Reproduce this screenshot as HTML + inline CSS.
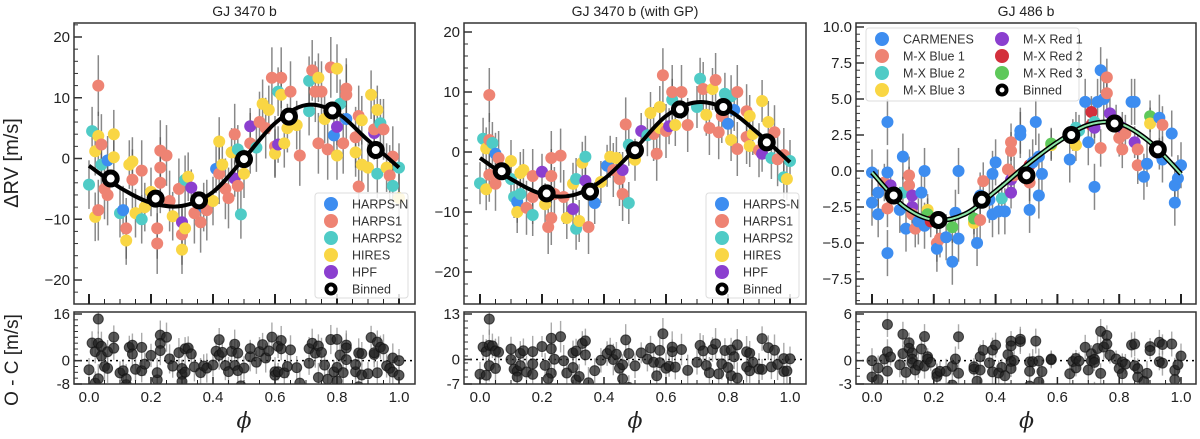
<!DOCTYPE html>
<html><head><meta charset="utf-8">
<style>
html,body{margin:0;padding:0;background:#fff;}
svg{display:block;font-family:"Liberation Sans","DejaVu Sans",sans-serif;}
</style></head>
<body>
<svg id="chart" width="1200" height="439" viewBox="0 0 1200 439" xmlns="http://www.w3.org/2000/svg">
<text x="18" y="163" transform="rotate(-90 18 163)" text-anchor="middle" font-size="20" fill="#222">ΔRV [m/s]</text>
<text x="18" y="360" transform="rotate(-90 18 360)" text-anchor="middle" font-size="19" fill="#222">O - C [m/s]</text>
</svg>
<script>
// ---------- data ----------
const instColors = ["#3d8df0","#ee8373","#4fcbc6","#f9d644","#8b3fcf","#d3303c","#5ec85a"];
const legend1 = ["HARPS-N","HARPS1","HARPS2","HIRES","HPF"];
const legend3 = ["CARMENES","M-X Blue 1","M-X Blue 2","M-X Blue 3","M-X Red 1","M-X Red 2","M-X Red 3"];
const titles = ["GJ 3470 b","GJ 3470 b (with GP)","GJ 486 b"];
const xTicks = [0.0,0.2,0.4,0.6,0.8,1.0];
const xTickLabels = ["0.0","0.2","0.4","0.6","0.8","1.0"];
const yTicks1 = [-20,-10,0,10,20];
const yTicks3 = [-7.5,-5,-2.5,0,2.5,5,7.5,10];
const yTickLabels3 = ["−7.5","−5.0","−2.5","0.0","2.5","5.0","7.5","10.0"];
const resTicks1 = [16,0,-8];
const resTicks2 = [13,0,-7];
const resTicks3 = [6,0,-3];
const curvePhase = [0,0.1,0.2,0.3,0.4,0.5,0.6,0.7,0.8,0.9,1.0];
const curve1 = [-1.2,-4.8,-7.3,-7.8,-5.5,0,5.8,8.8,7.5,3,-1.5];
const curve2 = [-1,-4.5,-7,-7.2,-4.5,0.5,6,8.3,7,3,-1.7];
const curve3 = [-0.1,-2.4,-3.4,-3.0,-1.4,0.4,2.0,3.2,3.3,2.0,-0.2];
const binPhase = [0.07,0.215,0.355,0.5,0.645,0.785,0.925];
const bin1 = [-3.3,-6.6,-6.9,-0.1,6.9,7.9,1.4];
const bin2 = [-3.2,-6.9,-6.6,0.3,7.1,7.5,1.6];
const bin3 = [-1.7,-3.4,-2.0,-0.3,2.5,3.3,1.5];
const err1 = [4,5,4,4,3];
const err2 = [3.5,4.5,3.5,3.5,3];
const err3 = [1.6,1.3,1.1,1.1,1.1,1.1,1.1];
const pts1 = [[0,-4.3,2],[0.01,4.5,2],[0.02,1.2,3],[0.02,-9.6,3],[0.03,3.7,3],[0.03,12,1],[0.03,-8.5,1],[0.04,2.3,1],[0.04,-1,2],[0.05,-5,1],[0.06,-0.3,0],[0.06,-6,1],[0.08,4,3],[0.08,0.2,3],[0.1,-9,2],[0.11,-8.5,0],[0.12,-13.5,3],[0.12,-11.5,1],[0.13,-1,3],[0.14,-0.5,3],[0.14,-3.5,1],[0.15,-9,3],[0.17,-10,2],[0.17,-2,1],[0.18,-8,3],[0.2,-5.5,3],[0.22,-14,1],[0.22,-11.5,1],[0.23,1.3,1],[0.23,-1.5,1],[0.23,-4,1],[0.25,0.5,1],[0.26,-7,1],[0.27,-9.5,3],[0.29,-5,1],[0.3,-12.5,1],[0.3,-15,3],[0.3,-10.5,4],[0.31,-11.5,3],[0.31,-3.5,2],[0.32,-3,3],[0.33,-4.8,4],[0.34,-9,1],[0.36,-10.5,1],[0.37,-8,0],[0.38,-8.5,1],[0.4,-7,3],[0.41,-1.7,0],[0.42,-2.5,1],[0.42,2.8,3],[0.43,-1,3],[0.44,-5,1],[0.45,-6.5,1],[0.46,1,3],[0.47,4,1],[0.47,-3.3,4],[0.48,1.5,2],[0.48,-4.5,1],[0.49,-9.2,2],[0.5,-2.5,3],[0.52,2.5,1],[0.52,5.3,4],[0.54,1.8,2],[0.55,6,1],[0.56,9,3],[0.57,5,1],[0.58,8,3],[0.59,13.3,1],[0.6,2,1],[0.6,0.8,3],[0.61,2.3,4],[0.61,11,2],[0.62,13.3,1],[0.62,10.5,3],[0.63,2.5,3],[0.64,5,3],[0.65,11,1],[0.67,5.5,3],[0.68,0.5,1],[0.71,7.8,2],[0.71,12.8,2],[0.72,14.5,1],[0.73,11,1],[0.74,13.3,3],[0.74,2.5,1],[0.75,11,1],[0.76,6.5,3],[0.77,1.5,1],[0.78,15,1],[0.79,3.8,0],[0.8,0.5,3],[0.8,14.8,3],[0.8,5.2,4],[0.81,9,2],[0.82,2.5,1],[0.83,6.5,0],[0.83,11.5,1],[0.83,10.5,1],[0.86,1,3],[0.86,3.5,1],[0.87,7,1],[0.87,-4.6,1],[0.88,6.3,3],[0.88,-1,3],[0.9,-1.5,3],[0.91,10.5,3],[0.92,4.2,4],[0.92,4.8,1],[0.93,-2.5,2],[0.93,8,3],[0.94,5.8,2],[0.95,4.8,1],[0.96,-1.5,3],[0.97,-2.8,1],[0.98,0.3,1],[0.98,-4.5,2],[1.0,-6.5,3],[1.0,-1.5,2]];
const pts2 = [[0,-5.2,2],[0.01,2.2,2],[0.02,0.6,3],[0.02,-6.2,3],[0.03,9.5,1],[0.03,2,1],[0.03,-3.8,1],[0.04,1.5,2],[0.05,-0.3,0],[0.05,-5.3,1],[0.06,-1,1],[0.1,-1.5,3],[0.1,-4.5,2],[0.11,-7.5,2],[0.12,-8.3,0],[0.12,-10,3],[0.13,-7,2],[0.13,-3.5,3],[0.14,-3,3],[0.15,-9.3,1],[0.17,-4,1],[0.17,-7.5,1],[0.17,-10.5,2],[0.2,-3.3,4],[0.21,-8.7,3],[0.23,-1,1],[0.23,-4,1],[0.23,-11,1],[0.22,-12.5,1],[0.24,-7,1],[0.26,-0.6,1],[0.27,-7.5,1],[0.28,-11,3],[0.3,-9.5,4],[0.3,-5.3,3],[0.31,-12.8,2],[0.31,-4.5,2],[0.32,-11.5,3],[0.33,-1.8,3],[0.34,-0.8,2],[0.34,-4.8,4],[0.35,-12.5,1],[0.37,-8.5,0],[0.39,-5,3],[0.41,-2.3,0],[0.42,-0.8,3],[0.43,-3,1],[0.44,-1,3],[0.45,-4.5,1],[0.46,-3,4],[0.46,-7,1],[0.47,4.6,1],[0.48,1.2,2],[0.48,-8.5,2],[0.5,-1.3,3],[0.52,3.5,4],[0.54,2.8,2],[0.55,6.5,3],[0.56,3,1],[0.57,-0.3,1],[0.58,7.5,3],[0.58,4,3],[0.59,12.8,1],[0.6,3.5,1],[0.61,4.3,4],[0.62,8.7,2],[0.62,10,1],[0.63,4.5,3],[0.65,10,1],[0.67,4.5,1],[0.7,7.5,2],[0.71,12.2,2],[0.72,10.5,1],[0.73,6.2,3],[0.74,4,1],[0.75,10.5,3],[0.76,12,1],[0.77,3.3,1],[0.78,6,1],[0.79,9.7,2],[0.8,4.7,0],[0.81,9.3,2],[0.81,2,3],[0.82,7,0],[0.83,10,1],[0.83,0.5,1],[0.86,2.5,1],[0.86,6.8,1],[0.87,1,3],[0.87,6,3],[0.88,3,3],[0.9,0.3,1],[0.91,8.5,3],[0.91,-0.3,4],[0.93,5,3],[0.94,-1,2],[0.95,3.3,1],[0.96,-1.2,1],[0.98,-0.5,1],[0.98,-4.2,2],[0.99,-4.5,3],[1.0,-1.5,2]];
const pts3 = [[0,-2.2,0],[0,-0.1,0],[0.02,-1.5,0],[0.02,-3,0],[0.04,-0.8,1],[0.05,3.4,0],[0.05,-0.1,0],[0.05,-2.6,1],[0.05,-5.7,0],[0.06,-1,4],[0.09,-2.7,0],[0.1,1,0],[0.1,-1.5,2],[0.11,-4,0],[0.12,-0.3,1],[0.12,-1,1],[0.13,-1.7,4],[0.13,-2.5,4],[0.13,-3,1],[0.14,-4,1],[0.15,-3.5,0],[0.16,-1.5,0],[0.17,0,0],[0.17,-3.8,0],[0.18,-2.7,3],[0.18,-3,6],[0.19,-3.5,5],[0.21,-5,1],[0.21,-5.4,0],[0.22,-4.7,1],[0.24,-4.6,0],[0.26,-6.3,0],[0.26,-3.9,6],[0.27,-2.9,0],[0.28,0,0],[0.28,-4.7,0],[0.33,-3.6,3],[0.33,-3.3,6],[0.34,-5,0],[0.35,-3.4,1],[0.35,-1.7,0],[0.36,-0.7,1],[0.38,-2,0],[0.39,-3,0],[0.39,-0.2,0],[0.4,0.6,0],[0.41,-2.8,0],[0.42,-1.9,2],[0.43,-2.8,0],[0.44,0.1,1],[0.45,-0.6,4],[0.45,-1.5,4],[0.45,2,1],[0.45,1.4,1],[0.46,-0.3,1],[0.48,2.5,0],[0.48,2.8,0],[0.51,0.4,5],[0.51,-0.8,1],[0.51,-2.7,0],[0.52,0.6,0],[0.53,3.4,0],[0.54,-1.7,0],[0.54,1,0],[0.55,-0.2,0],[0.58,1.8,3],[0.58,1.9,6],[0.64,0.8,0],[0.65,2.5,6],[0.66,3,2],[0.66,1.8,3],[0.67,2.8,2],[0.69,4.8,0],[0.7,2,0],[0.71,4.1,5],[0.71,3.2,5],[0.72,3.4,2],[0.72,3,4],[0.72,-1.1,0],[0.73,4.8,0],[0.74,1.6,1],[0.74,7,0],[0.75,5,0],[0.76,6.5,1],[0.76,5.4,1],[0.77,4,4],[0.79,3.5,4],[0.8,2.3,1],[0.81,3,4],[0.81,1.5,1],[0.82,2.6,1],[0.84,4.8,0],[0.85,4.8,0],[0.85,2,4],[0.86,1.5,1],[0.86,0.4,1],[0.88,-0.4,0],[0.89,0.5,0],[0.9,3.8,6],[0.9,3.3,3],[0.93,3.7,0],[0.93,1.2,4],[0.94,0.8,0],[0.94,3.2,1],[0.97,2.6,0],[0.98,-1,0],[0.98,-2.2,0],[0.99,-0.5,0],[1.0,0.4,0]];

// ---------- drawing ----------
const svg = document.getElementById('chart');
const NS = "http://www.w3.org/2000/svg";
function el(tag, attrs, parent){
  const e = document.createElementNS(NS, tag);
  for (const k in attrs) e.setAttribute(k, attrs[k]);
  (parent||svg).appendChild(e);
  return e;
}
function lin(d0,d1,r0,r1){ return v => r0 + (v-d0)*(r1-r0)/(d1-d0); }
function interp(px, py, x){
  for (let i=0;i<px.length-1;i++){
    if (x<=px[i+1]) return py[i] + (py[i+1]-py[i])*(x-px[i])/(px[i+1]-px[i]);
  }
  return py[py.length-1];
}
function smoothPath(pts){
  let d = "M"+pts[0][0]+","+pts[0][1];
  for (let i=0;i<pts.length-1;i++){
    const p0=pts[Math.max(0,i-1)], p1=pts[i], p2=pts[i+1], p3=pts[Math.min(pts.length-1,i+2)];
    const c1x=p1[0]+(p2[0]-p0[0])/6, c1y=p1[1]+(p2[1]-p0[1])/6;
    const c2x=p2[0]-(p3[0]-p1[0])/6, c2y=p2[1]-(p3[1]-p1[1])/6;
    d += " C"+c1x+","+c1y+" "+c2x+","+c2y+" "+p2[0]+","+p2[1];
  }
  return d;
}

const panels = [
  {L:74,R:415,x0:89,x1:399,yA:20,pA:37,yB:-20,pB:280,rA:16,rpA:314,rB:-8,rpB:384,
   yT:yTicks1,yTL:yTicks1.map(v=>v<0?"−"+(-v):""+v),yMinor:2,rT:resTicks1,rMinor:2,
   pts:pts1,curve:curve1,bin:bin1,err:err1,green:false,
   legend:{x:315,y:193,w:93,h:105,names:legend1,cols:1}},
  {L:464,R:806,x0:480,x1:790,yA:20,pA:32,yB:-20,pB:272,rA:13,rpA:314,rB:-7,rpB:384,
   yT:yTicks1,yTL:yTicks1.map(v=>v<0?"−"+(-v):""+v),yMinor:2,rT:resTicks2,rMinor:2,
   pts:pts2,curve:curve2,bin:bin2,err:err2,green:false,
   legend:{x:706,y:193,w:93,h:105,names:legend1,cols:1}},
  {L:856,R:1196,x0:872,x1:1181,yA:10,pA:27,yB:-7.5,pB:279,rA:6,rpA:314,rB:-3,rpB:384,
   yT:yTicks3,yTL:yTickLabels3,yMinor:0.5,rT:resTicks3,rMinor:1,
   pts:pts3,curve:curve3,bin:bin3,err:err3,green:true,
   legend:{x:866,y:28,w:213,h:73,names:legend3,cols:2}}
];
const TOP=23, BOT=304, RTOP=312, RBOT=384;

panels.forEach((P,pi)=>{
  const g = el('g',{});
  
  
  const X = lin(0,1,P.x0,P.x1);
  const Y = lin(P.yA,P.yB,P.pA,P.pB);
  const RY = lin(P.rA,P.rB,P.rpA,P.rpB);
  const cx = (P.L+P.R)/2;

  const t = el('text',{x:cx,y:16,'text-anchor':'middle','font-size':14,fill:'#222'},g);
  t.textContent = titles[pi];
  
  

  const cp = el('clipPath',{id:'clipm'+pi},g); el('rect',{x:P.L,y:TOP,width:P.R-P.L,height:BOT-TOP},cp);
  const cr = el('clipPath',{id:'clipr'+pi},g); el('rect',{x:P.L,y:RTOP,width:P.R-P.L,height:RBOT-RTOP},cr);

  const mg = el('g',{'clip-path':'url(#clipm'+pi+')'},g);
  P.pts.forEach(p=>{
    const e = P.err[p[2]];
    el('line',{x1:X(p[0]),x2:X(p[0]),y1:Y(p[1]+e),y2:Y(p[1]-e),stroke:'#555','stroke-width':1.5,'stroke-opacity':0.7},mg);
  });
  P.pts.forEach(p=>{
    const c = el('circle',{cx:X(p[0]),cy:Y(p[1]),r:6,fill:instColors[p[2]]},mg);
    
    
  });
  const cpts = curvePhase.map((ph,i)=>[X(ph),Y(P.curve[i])]);
  const path = smoothPath(cpts);
  const cv = el('path',{d:path,fill:'none',stroke:'#000','stroke-width':P.green?5:4},mg);
  
  
  if (P.green) el('path',{d:path,fill:'none',stroke:'#8ee6a8','stroke-width':2},mg);
  binPhase.forEach((ph,i)=>{
    const b = el('circle',{cx:X(ph),cy:Y(P.bin[i]),r:6.5,fill:'#fff',stroke:'#000','stroke-width':5},mg);
    
    
  });

  const rg = el('g',{'clip-path':'url(#clipr'+pi+')'},g);
  el('line',{x1:P.L,x2:P.R,y1:RY(0),y2:RY(0),stroke:'#000','stroke-width':1.5,'stroke-dasharray':'2,4'},rg);
  P.pts.forEach(p=>{
    const r = p[1]-interp(curvePhase,P.curve,p[0]);
    const e = P.err[p[2]];
    el('line',{x1:X(p[0]),x2:X(p[0]),y1:RY(r+e),y2:RY(r-e),stroke:'#888','stroke-width':1.4,'stroke-opacity':0.7},rg);
  });
  P.pts.forEach(p=>{
    const r = p[1]-interp(curvePhase,P.curve,p[0]);
    const c = el('circle',{cx:X(p[0]),cy:RY(r),r:5,fill:'#222','fill-opacity':0.75,stroke:'#111','stroke-opacity':0.7},rg);
    
    
  });

  el('rect',{x:P.L,y:TOP,width:P.R-P.L,height:BOT-TOP,fill:'none',stroke:'#333','stroke-width':1.5},g);
  el('rect',{x:P.L,y:RTOP,width:P.R-P.L,height:RBOT-RTOP,fill:'none',stroke:'#333','stroke-width':1.5},g);

  for (let v=Math.ceil(P.yB/P.yMinor)*P.yMinor; v<=P.yA+1e-9; v+=P.yMinor){
    const yy=Y(v); if (yy<TOP||yy>BOT) continue;
    el('line',{x1:P.L,x2:P.L+4,y1:yy,y2:yy,stroke:'#333','stroke-width':1},g);
  }
  for (let v=P.yB-P.yMinor; Y(v)<=BOT; v-=P.yMinor){ el('line',{x1:P.L,x2:P.L+4,y1:Y(v),y2:Y(v),stroke:'#333','stroke-width':1},g); }
  for (let v=P.yA+P.yMinor; Y(v)>=TOP; v+=P.yMinor){ el('line',{x1:P.L,x2:P.L+4,y1:Y(v),y2:Y(v),stroke:'#333','stroke-width':1},g); }
  P.yT.forEach((v,i)=>{
    el('line',{x1:P.L,x2:P.L+8,y1:Y(v),y2:Y(v),stroke:'#333','stroke-width':1.5},g);
    const tl = el('text',{x:P.L-4,y:Y(v)+5,'text-anchor':'end','font-size':15,fill:'#222'},g);
    tl.textContent = P.yTL[i];
    
    
  });
  for (let v=P.rB; v<=P.rA+1e-9; v+=P.rMinor){
    el('line',{x1:P.L,x2:P.L+4,y1:RY(v),y2:RY(v),stroke:'#333','stroke-width':1},g);
  }
  P.rT.forEach(v=>{
    el('line',{x1:P.L,x2:P.L+8,y1:RY(v),y2:RY(v),stroke:'#333','stroke-width':1.5},g);
    const tl = el('text',{x:P.L-4,y:RY(v)+5,'text-anchor':'end','font-size':15,fill:'#222'},g);
    tl.textContent = ""+v;
    
    
  });
  for (let k=0;k<=20;k++){
    const v=k*0.05, xx=X(v), major=(k%4===0);
    el('line',{x1:xx,x2:xx,y1:BOT,y2:BOT-(major?10:5),stroke:'#222','stroke-width':major?2:1},g);
    el('line',{x1:xx,x2:xx,y1:RBOT,y2:RBOT-(major?7:4),stroke:'#222','stroke-width':major?1.5:1},g);
  }
  xTicks.forEach((v,i)=>{
    const tl = el('text',{x:X(v),y:RBOT+18,'text-anchor':'middle','font-size':15,fill:'#222'},g);
    tl.textContent = xTickLabels[i];
    
    
  });
  const xl = el('text',{x:(P.x0+P.x1)/2,y:428,'text-anchor':'middle','font-size':22,'font-style':'italic','font-family':'"DejaVu Serif","Liberation Serif",serif',fill:'#222'},g);
  xl.textContent = "ϕ";
  
  

  const Lg = P.legend;
  const lg = el('g',{},g);
  
  
  el('rect',{x:Lg.x,y:Lg.y,width:Lg.w,height:Lg.h,rx:3,fill:'#fff','fill-opacity':0.85,stroke:'#ddd'},lg);
  const names = Lg.names.concat(["Binned"]);
  const rows = Lg.cols===1 ? names.length : 4;
  const rowH = 17;
  names.forEach((n,i)=>{
    const col = Lg.cols===1?0:Math.floor(i/rows), row = Lg.cols===1?i:i%rows;
    const mx = Lg.x+16+col*120, my = Lg.y+11+row*rowH;
    const ent = el('g',{},lg);
    
    
    if (n==="Binned") el('circle',{cx:mx,cy:my,r:4.5,fill:'#fff',stroke:'#000','stroke-width':4},ent);
    else el('circle',{cx:mx,cy:my,r:7,fill:instColors[i]},ent);
    const tx = el('text',{x:mx+21,y:my+4.5,'font-size':12.5,fill:'#333'},ent);
    tx.textContent = n;
  });
});
</script>
</body></html>
